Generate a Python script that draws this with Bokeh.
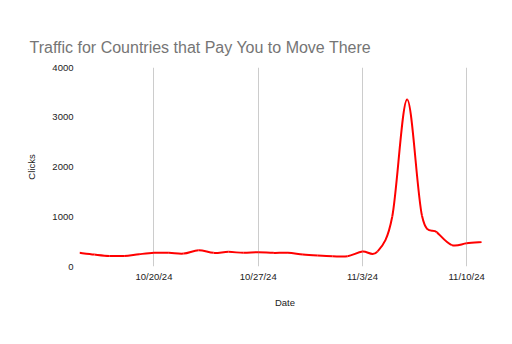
import numpy as np
from bokeh.plotting import figure
from bokeh.models import FixedTicker, Range1d
from bokeh.embed import file_html
from bokeh.resources import INLINE

# ---- data (daily clicks) ----
dates = ["10/15/24", "10/16/24", "10/17/24", "10/18/24", "10/19/24", "10/20/24",
         "10/21/24", "10/22/24", "10/23/24", "10/24/24", "10/25/24", "10/26/24",
         "10/27/24", "10/28/24", "10/29/24", "10/30/24", "10/31/24", "11/1/24",
         "11/2/24", "11/3/24", "11/4/24", "11/5/24", "11/6/24", "11/7/24",
         "11/8/24", "11/9/24", "11/10/24", "11/11/24"]
clicks = [274, 240, 213, 213, 247, 274,
          274, 260, 327, 274, 294, 274,
          287, 274, 274, 240, 220, 207,
          207, 300, 300, 1000, 3355, 1020,
          690, 430, 465, 490]
x_tick_labels = ["10/20/24", "10/27/24", "11/3/24", "11/10/24"]
y_ticks = [0, 1000, 2000, 3000, 4000]

FONT = "Liberation Sans"

x = np.arange(len(dates), dtype=float)
y = np.array(clicks, dtype=float)

p = figure(width=512, height=344, output_backend="svg", toolbar_location=None,
           x_range=Range1d(0, 27.6), y_range=Range1d(0, 4000),
           min_border_left=79, min_border_right=22, min_border_top=67,
           min_border_bottom=78, outline_line_color=None,
           background_fill_color="white", border_fill_color="white")

p.title.text = "Traffic for Countries that Pay You to Move There"
p.title.text_font = FONT
p.title.text_font_size = "16px"
p.title.text_font_style = "normal"
p.title.text_color = "#757575"
p.title.align = "left"
p.title.offset = -50
p.title.standoff = 23

# smooth curve through the data points (Catmull-Rom as cubic Beziers)
xp = np.concatenate([[x[0]], x, [x[-1]]])
yp = np.concatenate([[y[0]], y, [y[-1]]])
n = len(x) - 1
x0 = x[:-1]; y0 = y[:-1]; x1 = x[1:]; y1 = y[1:]
cx0 = xp[1:n+1] + (xp[2:n+2] - xp[0:n]) / 6.0
cy0 = yp[1:n+1] + (yp[2:n+2] - yp[0:n]) / 6.0
cx1 = xp[2:n+2] - (xp[3:n+3] - xp[1:n+1]) / 6.0
cy1 = yp[2:n+2] - (yp[3:n+3] - yp[1:n+1]) / 6.0
p.bezier(x0=x0, y0=y0, x1=x1, y1=y1, cx0=cx0, cy0=cy0, cx1=cx1, cy1=cy1,
         line_color="#ff0000", line_width=2)

# axes
tick_pos = [dates.index(d) for d in x_tick_labels]
p.xaxis.ticker = FixedTicker(ticks=tick_pos)
p.xaxis.major_label_overrides = {t: lab for t, lab in zip(tick_pos, x_tick_labels)}
p.yaxis.ticker = FixedTicker(ticks=y_ticks)

for ax in (p.xaxis[0], p.yaxis[0]):
    ax.axis_line_color = None
    ax.major_tick_line_color = None
    ax.minor_tick_line_color = None
    ax.major_tick_in = 0
    ax.major_tick_out = 0
    ax.minor_tick_in = 0
    ax.minor_tick_out = 0
    ax.major_label_text_font = FONT
    ax.major_label_text_font_size = "9.5px"
    ax.major_label_text_color = "#222222"
    ax.axis_label_text_font = FONT
    ax.axis_label_text_font_size = "9.5px"
    ax.axis_label_text_font_style = "normal"
    ax.axis_label_text_color = "#222222"

p.xaxis.axis_label = "Date"
p.yaxis.axis_label = "Clicks"
p.xaxis.major_label_standoff = 4
p.xaxis.axis_label_standoff = 12
p.yaxis.major_label_standoff = 6
p.yaxis.axis_label_standoff = 12

p.xgrid.grid_line_color = "#cccccc"
p.xgrid.grid_line_width = 1
p.ygrid.grid_line_color = None

open("out.html", "w").write(file_html(p, INLINE))
